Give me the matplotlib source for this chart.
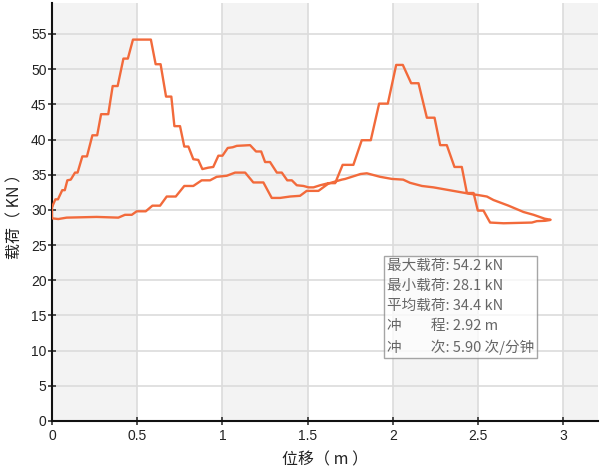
import matplotlib
matplotlib.use("Agg")
import matplotlib.pyplot as plt

plt.rcParams['font.family'] = ['Liberation Sans', 'Noto Sans CJK SC', 'DejaVu Sans']

# 上冲程 (位移 m, 载荷 kN)
up_x = [0.000, 0.020, 0.035, 0.060, 0.075, 0.090, 0.110, 0.135, 0.150, 0.178,
        0.205, 0.237, 0.265, 0.288, 0.330, 0.356, 0.385, 0.419, 0.445, 0.475,
        0.580, 0.608, 0.637, 0.669, 0.700, 0.718, 0.751, 0.776, 0.800, 0.829,
        0.858, 0.882, 0.917, 0.946, 0.976, 1.000, 1.031, 1.060, 1.084, 1.162,
        1.197, 1.227, 1.250, 1.279, 1.319, 1.348, 1.380, 1.407, 1.436, 1.475,
        1.505, 1.534, 1.573, 1.622, 1.661, 1.705, 1.768, 1.817, 1.870, 1.919,
        1.970, 2.019, 2.058, 2.107, 2.150, 2.199, 2.244, 2.277, 2.316, 2.361,
        2.404, 2.434, 2.473, 2.498, 2.531, 2.570, 2.649, 2.815, 2.844, 2.893,
        2.920]
up_y = [30.4, 31.5, 31.5, 32.8, 32.8, 34.2, 34.3, 35.3, 35.3, 37.6,
        37.6, 40.6, 40.6, 43.6, 43.6, 47.6, 47.6, 51.5, 51.5, 54.2,
        54.2, 50.7, 50.7, 46.1, 46.1, 41.9, 41.9, 39.0, 39.0, 37.2,
        37.1, 35.8, 36.0, 36.1, 37.7, 37.7, 38.8, 38.9, 39.1, 39.2,
        38.3, 38.3, 36.8, 36.8, 35.3, 35.3, 34.2, 34.2, 33.5, 33.4,
        33.2, 33.2, 33.5, 33.8, 33.8, 36.4, 36.4, 39.9, 39.9, 45.1,
        45.1, 50.6, 50.6, 48.0, 48.0, 43.1, 43.1, 39.2, 39.2, 36.1,
        36.1, 32.4, 32.4, 29.9, 29.9, 28.2, 28.1, 28.2, 28.4, 28.45,
        28.55]

# 下冲程 (从右往左)
down_x = [2.925, 2.890, 2.825, 2.766, 2.727, 2.678, 2.629, 2.590, 2.551, 2.502,
          2.424, 2.355, 2.238, 2.170, 2.100, 2.060, 1.994, 1.925, 1.847, 1.810,
          1.759, 1.720, 1.700, 1.622, 1.563, 1.494, 1.455, 1.397, 1.338, 1.289,
          1.240, 1.181, 1.133, 1.074, 1.025, 0.966, 0.927, 0.878, 0.829, 0.776,
          0.726, 0.673, 0.634, 0.589, 0.550, 0.497, 0.468, 0.428, 0.389, 0.262,
          0.086, 0.037, 0.000, 0.000]
down_y = [28.6, 28.75, 29.3, 29.7, 30.1, 30.6, 31.05, 31.4, 31.9, 32.1,
          32.4, 32.7, 33.2, 33.4, 33.85, 34.3, 34.4, 34.7, 35.2, 35.1,
          34.7, 34.4, 34.3, 33.75, 32.7, 32.7, 32.0, 31.9, 31.7, 31.7,
          33.9, 33.9, 35.3, 35.3, 34.85, 34.7, 34.2, 34.2, 33.4, 33.4,
          31.9, 31.9, 30.6, 30.6, 29.8, 29.8, 29.3, 29.3, 28.9, 29.0,
          28.9, 28.7, 28.8, 30.4]

x_ticks = [0, 0.5, 1, 1.5, 2, 2.5, 3]
x_tick_labels = ['0', '0.5', '1', '1.5', '2', '2.5', '3']
y_ticks = list(range(0, 60, 5))

stats_lines = [
    '最大载荷: 54.2 kN',
    '最小载荷: 28.1 kN',
    '平均载荷: 34.4 kN',
    '冲         程: 2.92 m',
    '冲         次: 5.90 次/分钟',
]

line_color = '#f26a3b'

fig = plt.figure(figsize=(6.0, 4.7), dpi=100)
ax = fig.add_axes([52 / 600, 1 - 421 / 470, 545.5 / 600, 418 / 470])

xmax, ymax = 3.2, 59.4
ax.set_xlim(0, xmax)
ax.set_ylim(0, ymax)

# 交替背景带
for i in range(0, 7, 2):
    ax.axvspan(i * 0.5, min((i + 1) * 0.5, xmax), color='#f3f3f3', lw=0, zorder=0)

ax.set_axisbelow(True)
ax.grid(True, color='#dcdcdc', lw=1.2)

ax.plot(up_x + down_x, up_y + down_y, color=line_color, lw=1.7, zorder=3)

ax.set_xticks(x_ticks)
ax.set_xticklabels(x_tick_labels)
ax.set_yticks(y_ticks)
ax.tick_params(direction='inout', length=6, width=1.1, labelsize=10,
               colors='#222222')
ax.tick_params(axis='y', pad=1)
ax.tick_params(axis='x', pad=3)

for side in ['top', 'right']:
    ax.spines[side].set_visible(False)
for side in ['left', 'bottom']:
    ax.spines[side].set_linewidth(1.5)
    ax.spines[side].set_color('#111111')

ax.set_xlabel('位移（ m ）', fontsize=11.5, family=['Noto Sans CJK SC'],
              labelpad=6, color='#222222')
ax.set_ylabel('载荷（ KN ）', fontsize=11.5, family=['Noto Sans CJK SC'],
              labelpad=5, color='#222222')

ax.text(1.965, 23.1, '\n'.join(stats_lines), transform=ax.transData,
        fontsize=10.5, family=['Noto Sans CJK SC'], color='#666666',
        va='top', ha='left', linespacing=1.55, zorder=4,
        bbox=dict(boxstyle='square,pad=0.2', facecolor='white', alpha=0.75,
                  edgecolor='#888888', lw=1))

fig.savefig('out.png', dpi=100)
